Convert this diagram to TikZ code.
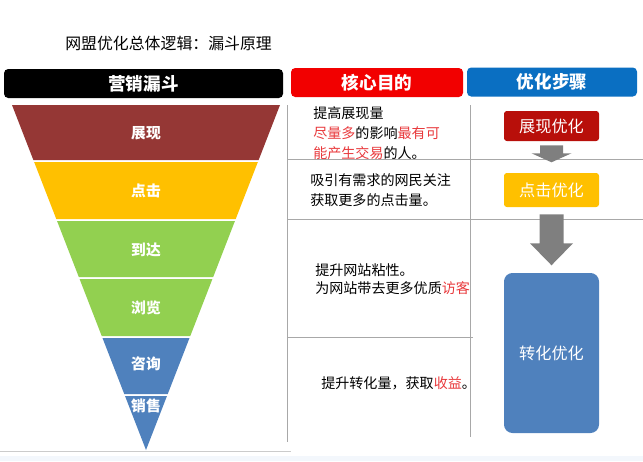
\documentclass[tikz,border=0pt]{standalone}
\usepackage{fontspec}
\newfontfamily\cjk{Noto Sans CJK SC}
\usetikzlibrary{positioning}

\newlength\pxu
\setlength\pxu{0.025cm}

\definecolor{funred}{HTML}{953735}
\definecolor{funyellow}{HTML}{FFC000}
\definecolor{fungreen}{HTML}{92D050}
\definecolor{funblue}{HTML}{4F81BD}
\definecolor{hdrred}{HTML}{F20000}
\definecolor{hdrblue}{HTML}{0A6FC2}
\definecolor{optred}{HTML}{B80F0A}
\definecolor{hilite}{HTML}{E8393C}
\definecolor{sepgray}{HTML}{A8A8A8}
\definecolor{arrowgray}{HTML}{7F7F7F}
\definecolor{bottomtint}{HTML}{F3F7FC}

\tikzset{
  header/.style={rounded corners=3pt, inner sep=0pt, text=white,
    minimum height=29*\pxu, font=\cjk\bfseries\fontsize{12.5}{14}\selectfont},
  bandlabel/.style={text=white, inner sep=0pt,
    font=\cjk\bfseries\fontsize{10.5}{12}\selectfont},
  purpose/.style={anchor=west, align=left, inner sep=0pt,
    font=\cjk\fontsize{10}{14.2}\selectfont},
  optbox/.style={rounded corners=2pt, inner sep=0pt, text=white,
    minimum width=95*\pxu, font=\cjk\fontsize{11.5}{13}\selectfont},
  sepline/.style={draw=sepgray, line width=0.5pt},
  blockarrow/.style={fill=arrowgray, draw=none},
}

\begin{document}
\begin{tikzpicture}[x=0.025cm, y=-0.025cm]
  \useasboundingbox (0,0) rectangle (643,461);
  \fill[bottomtint] (0,456) rectangle (643,461);

  \node[anchor=west, inner sep=0pt, font=\cjk\fontsize{11.3}{13}\selectfont]
    (title) at (65,43) {网盟优化总体逻辑：漏斗原理};

  % column heads
  \node[header, fill=black, minimum width=279*\pxu] (hfunnel) at (143.5,83.5) {营销漏斗};
  \node[header, fill=hdrred, minimum width=172*\pxu] (hpurpose) at (377,82.5) {核心目的};
  \node[header, fill=hdrblue, minimum width=170*\pxu] (hsteps) at (552,82) {优化步骤};

  % table rules
  \draw[sepline] (287,105) -- (287,442);
  \draw[sepline] (470,105) -- (470,437);
  \draw[sepline] (287,159) -- (643,159);
  \draw[sepline] (287,219) -- (643,219);
  \draw[sepline] (287,337) -- (473,337);
  \draw[sepline, draw=sepgray!60] (0,451) -- (291,451);

  % funnel
  \foreach \i/\ta/\tb/\col/\lab/\ly in {1/105/160/funred/展现/133,
      2/162/219/funyellow/点击/191, 3/221/277/fungreen/到达/250,
      4/279/336/fungreen/浏览/308, 5/338/394/funblue/咨询/364,
      6/396/450/funblue/销售/406} {
    \pgfmathsetmacro\xa{(\ta-105)/345*134}
    \pgfmathsetmacro\xb{(\tb-105)/345*134}
    \fill[\col] (12+\xa,\ta) -- (280-\xa,\ta) -- (280-\xb,\tb) -- (12+\xb,\tb) -- cycle;
    \node[bandlabel] (band\i) at (146,\ly) {\lab};
  }

  % purposes
  \node[purpose] (aimshow) at (313,133) {提高展现量\\
    \textcolor{hilite}{尽量多}的影响\textcolor{hilite}{最有可}\\
    \textcolor{hilite}{能产生交易}的人。};
  \node[purpose] (aimclick) at (310,190) {吸引有需求的网民关注\\获取更多的点击量。};
  \node[purpose, font=\cjk\fontsize{10}{13}\selectfont] (aimvisit) at (315,279)
    {提升网站粘性。\\为网站带去更多优质\textcolor{hilite}{访客}};
  \node[purpose] (aimconvert) at (321,383) {提升转化量，获取\textcolor{hilite}{收益}。};

  % optimisation steps
  \node[optbox, fill=optred, minimum height=30*\pxu] (optshow) at (551.5,126) {展现优化};
  \node[optbox, fill=funyellow, minimum height=34*\pxu] (optclick) at (551.5,190) {点击优化};
  \node[optbox, fill=funblue, rounded corners=6pt, minimum height=160*\pxu]
    (optconvert) at (551.5,353) {转化优化};

  \fill[blockarrow, shift={(optshow.south)}] (-11.5,4) -- (11.5,4) -- (11.5,12)
    -- (20,12) -- (0,21) -- (-20,12) -- (-11.5,12) -- cycle;
  \fill[blockarrow, shift={(optclick.south)}] (-12,7) -- (12,7) -- (12,36)
    -- (21.5,36) -- (0,58) -- (-21.5,36) -- (-12,36) -- cycle;
\end{tikzpicture}
\end{document}
